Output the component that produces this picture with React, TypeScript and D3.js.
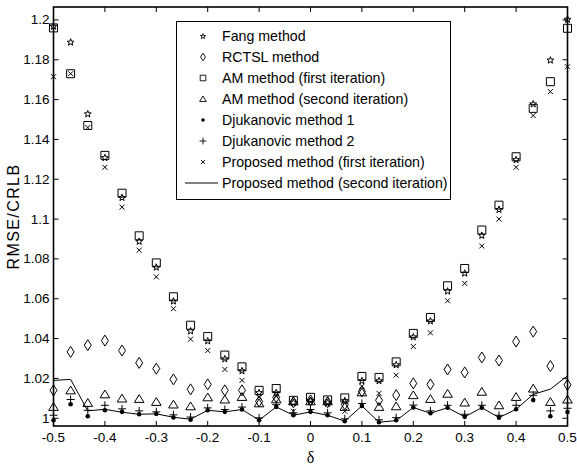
import React from "react";
import * as d3 from "d3";

// delta grid (31 points, step 1/30)
const deltas = [
  -0.5, -0.4667, -0.4333, -0.4, -0.3667, -0.3333, -0.3, -0.2667, -0.2333, -0.2, -0.1667,
  -0.1333, -0.1, -0.0667, -0.0333, 0, 0.0333, 0.0667, 0.1, 0.1333, 0.1667,
  0.2, 0.2333, 0.2667, 0.3, 0.3333, 0.3667, 0.4, 0.4333, 0.4667, 0.5,
];

const fang = [
  1.197, 1.189, 1.153, 1.131, 1.111, 1.089, 1.076, 1.059, 1.044, 1.039, 1.03,
  1.024, 1.013, 1.013, 1.008, 1.009, 1.008, 1.009, 1.019, 1.019, 1.027,
  1.041, 1.049, 1.064, 1.073, 1.092, 1.105, 1.13, 1.158, 1.18, 1.2005,
];
const rctsl = [
  1.014, 1.0333, 1.0367, 1.039, 1.034, 1.0278, 1.0249, 1.0195, 1.0145, 1.017, 1.014,
  1.014, 1.0085, 1.0105, 1.008, 1.009, 1.008, 1.007, 1.0135, 1.009, 1.0116,
  1.0175, 1.017, 1.0245, 1.023, 1.0305, 1.029, 1.0385, 1.0435, 1.0262, 1.0168,
];
const amFirst = [
  1.196, 1.173, 1.147, 1.132, 1.113, 1.0916, 1.078, 1.061, 1.0467, 1.041, 1.0317,
  1.0258, 1.014, 1.0149, 1.009, 1.0105, 1.0092, 1.0102, 1.021, 1.0205, 1.0283,
  1.0426, 1.0506, 1.0665, 1.0752, 1.0945, 1.107, 1.1313, 1.1556, 1.169, 1.1958,
];
const amSecond = [
  1.0057, 1.014, 1.0077, 1.012, 1.0099, 1.0097, 1.0082, 1.0069, 1.006, 1.0105, 1.0094,
  1.0107, 1.0075, 1.0095, 1.0085, 1.0085, 1.0085, 1.0057, 1.013, 1.0057, 1.006,
  1.0116, 1.0097, 1.0123, 1.0079, 1.0133, 1.0065, 1.0107, 1.0149, 1.0082, 1.0094,
];
const djuk1 = [
  0.999, 1.007, 1.001, 1.004, 1.0032, 1.002, 1.0022, 1.0004, 0.9993, 1.004, 1.0032,
  1.0044, 0.999, 1.0057, 1.0015, 1.0032, 1.0015, 0.9985, 1.0062, 0.998, 0.999,
  1.0054, 1.0025, 1.0053, 1.0007, 1.0053, 1.0003, 1.0045, 1.0091, 1.001, 1.0031,
];
const djuk2 = [
  1.0015, 1.0094, 1.004, 1.0065, 1.0047, 1.0037, 1.0032, 1.0017, 1.0006, 1.0052, 1.0044,
  1.0056, 1.0002, 1.0068, 1.0027, 1.0044, 1.0027, 0.9997, 1.0074, 0.9992, 1.0003,
  1.0066, 1.0037, 1.0065, 1.002, 1.0065, 1.0015, 1.0065, 1.0115, 1.0037, 1.005,
];
const propFirst = [
  1.1715, 1.173, 1.146, 1.126, 1.106, 1.0844, 1.071, 1.055, 1.0397, 1.034, 1.0245,
  1.019, 1.0105, 1.011, 1.0035, 1.008, 1.007, 1.0035, 1.016, 1.0125, 1.0216,
  1.036, 1.0429, 1.059, 1.0677, 1.0865, 1.1, 1.126, 1.152, 1.164, 1.1765,
];
const propSecond = [
  1.019, 1.0195, 1.0037, 1.0045, 1.003, 1.002, 1.0022, 1.0005, 0.9995, 1.004, 1.0032,
  1.0044, 0.999, 1.0057, 1.0015, 1.0032, 1.0015, 0.9985, 1.0062, 0.998, 0.9988,
  1.0054, 1.0025, 1.0053, 1.0007, 1.0053, 1.0003, 1.0045, 1.012, 1.0146, 1.0213,
];

const xTicks = [-0.5, -0.4, -0.3, -0.2, -0.1, 0, 0.1, 0.2, 0.3, 0.4, 0.5];
const yTicks = [1, 1.02, 1.04, 1.06, 1.08, 1.1, 1.12, 1.14, 1.16, 1.18, 1.2];

const legendLabels = [
  "Fang method",
  "RCTSL method",
  "AM method (first iteration)",
  "AM method (second iteration)",
  "Djukanovic method 1",
  "Djukanovic method 2",
  "Proposed method (first iteration)",
  "Proposed method (second iteration)",
];

const W = 577, H = 466;
const left = 53.5, right = 567.5, top = 7, bottom = 426;

const x = d3.scaleLinear().domain([-0.5, 0.5]).range([left, right]);
const y = d3.scaleLinear().domain([0.9961, 1.2065]).range([bottom, top]);

const fmt = (v: number) => String(+v.toFixed(2));

// marker paths, s = scale
const star = (s: number) => {
  const pts: string[] = [];
  for (let i = 0; i < 10; i++) {
    const r = i % 2 === 0 ? 3.6 * s : 1.5 * s;
    const a = -Math.PI / 2 + (i * Math.PI) / 5;
    pts.push(`${(r * Math.cos(a)).toFixed(2)},${(r * Math.sin(a) + 0.5 * s).toFixed(2)}`);
  }
  return "M" + pts.join("L") + "Z";
};
const diamond = (s: number) => `M0,${-5.5 * s}L${3.5 * s},0L0,${5.5 * s}L${-3.5 * s},0Z`;
const square = (s: number) => `M${-4 * s},${-4 * s}h${8 * s}v${8 * s}h${-8 * s}Z`;
const triangle = (s: number) => `M0,${-4.3 * s}L${4.8 * s},${3.5 * s}L${-4.8 * s},${3.5 * s}Z`;
const plus = (s: number) => `M${-4 * s},0h${8 * s}M0,${-4 * s}v${8 * s}`;
const cross = (s: number) => `M${-2.5 * s},${-2.5 * s}l${5 * s},${5 * s}M${2.5 * s},${-2.5 * s}l${-5 * s},${5 * s}`;

function Markers({ data, path }: { data: number[]; path: string }) {
  return (
    <g>
      {data.map((v, i) => (
        <path key={i} d={path} transform={`translate(${x(deltas[i])},${y(v)})`}
          fill="none" stroke="#000" strokeWidth={1} />
      ))}
    </g>
  );
}

export default function App() {
  const line = d3.line<number>().x((_, i) => x(deltas[i])).y((v) => y(v));
  const legendY = (i: number) => 36 + i * 21;
  const symX = 203;
  const legendPaths = [star(0.75), diamond(0.7), square(0.7), triangle(0.7), "", plus(0.85), cross(0.8)];

  return (
    <svg width={W} height={H} style={{ position: "absolute", left: 0, top: 0, background: "#fff" }}
      fontFamily="'Liberation Sans', Arial, sans-serif">
      <rect width={W} height={H} fill="#fff" />

      {/* series */}
      <path d={line(propSecond) || ""} fill="none" stroke="#000" strokeWidth={1} />
      <Markers data={amFirst} path={square(1)} />
      <Markers data={fang} path={star(1)} />
      <Markers data={rctsl} path={diamond(1)} />
      <Markers data={amSecond} path={triangle(1)} />
      <Markers data={djuk2} path={plus(1)} />
      <Markers data={propFirst} path={cross(1)} />
      {djuk1.map((v, i) => (
        <circle key={i} cx={x(deltas[i])} cy={y(v)} r={2.3} fill="#000" />
      ))}

      {/* axes box */}
      <rect x={left} y={top} width={right - left} height={bottom - top} fill="none" stroke="#000" strokeWidth={1.6} />
      {xTicks.map((t) => (
        <g key={"x" + t}>
          <line x1={x(t)} x2={x(t)} y1={bottom} y2={bottom - 5} stroke="#000" />
          <line x1={x(t)} x2={x(t)} y1={top} y2={top + 5} stroke="#000" />
          <text x={x(t)} y={bottom + 16} textAnchor="middle" fontSize={13.5}>{fmt(t)}</text>
        </g>
      ))}
      {yTicks.map((t) => (
        <g key={"y" + t}>
          <line x1={left} x2={left + 5} y1={y(t)} y2={y(t)} stroke="#000" />
          <line x1={right} x2={right - 5} y1={y(t)} y2={y(t)} stroke="#000" />
          <text x={left - 4} y={y(t) + 4.5} textAnchor="end" fontSize={13.5}>{fmt(t)}</text>
        </g>
      ))}

      <text transform={`translate(19,${(top + bottom) / 2}) rotate(-90)`} textAnchor="middle"
        fontSize={16} letterSpacing={1.4}>RMSE/CRLB</text>
      <text x={x(0)} y={463} textAnchor="middle" fontSize={16}
        fontFamily="'Liberation Serif', 'Times New Roman', serif">δ</text>

      {/* legend */}
      <rect x={176.5} y={21.5} width={274} height={178} fill="#fff" stroke="#000" strokeWidth={1} />
      {legendLabels.map((lab, i) => (
        <g key={lab}>
          {i < 7 && i !== 4 && (
            <path d={legendPaths[i]} transform={`translate(${symX},${legendY(i)})`} fill="none" stroke="#000" strokeWidth={0.9} />
          )}
          {i === 4 && <circle cx={symX} cy={legendY(i)} r={1.8} fill="#000" />}
          {i === 7 && <line x1={185} x2={218} y1={legendY(i)} y2={legendY(i)} stroke="#000" />}
          <text x={222} y={legendY(i) + 5} fontSize={14.2}>{lab}</text>
        </g>
      ))}
    </svg>
  );
}
